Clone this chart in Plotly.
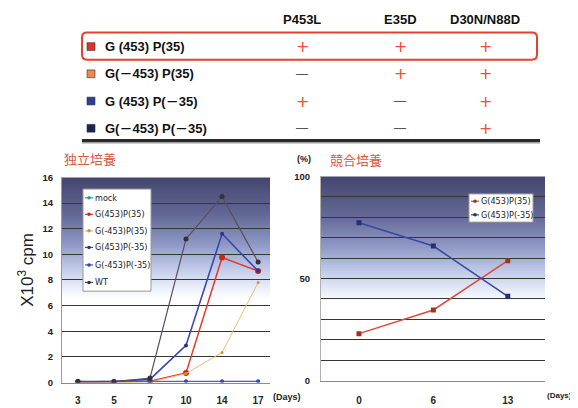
import plotly.graph_objects as go

# The page body has an 8px default margin, so the figure is offset by 8px.
OFF = 8
W, H = 570, 400


def fx(x):
    return (x - OFF) / W


def fy(y):
    return 1 - (y - OFF) / H


# ---------------- data ----------------
table_cols = ["P453L", "E35D", "D30N/N88D"]
table_rows = ["G (453) P(35)", "G(－453) P(35)", "G (453) P(－35)", "G(－453) P(－35)"]
row_colors = ["#e0302a", "#f08a4a", "#2c3f98", "#1d2352"]
table_signs = [["+", "+", "+"], ["-", "+", "+"], ["+", "-", "+"], ["-", "-", "+"]]

left_days = ["3", "5", "7", "10", "14", "17"]
left_names = ["mock", "G(453)P(35)", "G(-453)P(35)", "G(453)P(-35)", "G(-453)P(-35)", "WT"]
mock = [0.05, 0.05, 0.1, 0.1, 0.1, 0.1]
g453_p35 = [0.0, 0.05, 0.1, 0.75, 9.75, 8.7]
gm453_p35 = [0.0, 0.05, 0.05, 0.7, 2.35, 7.8]
g453_pm35 = [0.05, 0.1, 0.25, 2.9, 11.6, 8.7]
gm453_pm35 = [0.1, 0.1, 0.1, 0.1, 0.1, 0.1]
wt = [0.1, 0.05, 0.35, 11.2, 14.5, 9.4]
left_y_ticks = [0, 2, 4, 6, 8, 10, 12, 14, 16]

right_days = ["0", "6", "13"]
right_names = ["G(453)P(35)", "G(453)P(-35)"]
comp_p35 = [23, 34.6, 58.7]
comp_pm35 = [77.3, 65.9, 41.3]
right_y_ticks = [0, 10, 20, 30, 40, 50, 60, 70, 80, 90, 100]
right_y_labels = ["0", " ", " ", " ", " ", "50", " ", " ", " ", " ", "100"]

# ---------------- styles ----------------
left_series = [mock, g453_p35, gm453_p35, g453_pm35, gm453_pm35, wt]
left_line_colors = ["#2a9d9a", "#e23a2a", "#f4b870", "#3a46b0", "#3c5ccc", "#5a4e5e"]
left_marker_colors = ["#2a9d9a", "#c8281c", "#d89030", "#2a3490", "#2c48b8", "#333333"]
left_widths = [1, 1.5, 1, 1.6, 1, 1.2]
left_msize = [3, 6, 3, 4, 4, 5]

right_series = [comp_p35, comp_pm35]
right_line_colors = ["#e04a3a", "#3a48a0"]
right_marker_colors = ["#a83020", "#283070"]

fig = go.Figure()

for name, vals, lc, mc, lw, ms in zip(left_names, left_series, left_line_colors,
                                       left_marker_colors, left_widths, left_msize):
    fig.add_trace(go.Scatter(x=left_days, y=vals, name=name, mode="lines+markers",
                             line=dict(color=lc, width=lw),
                             marker=dict(color=mc, size=ms),
                             xaxis="x", yaxis="y", showlegend=False))

for name, vals, lc, mc in zip(right_names, right_series, right_line_colors, right_marker_colors):
    fig.add_trace(go.Scatter(x=right_days, y=vals, name=name, mode="lines+markers",
                             line=dict(color=lc, width=1.5),
                             marker=dict(color=mc, size=5, symbol="square"),
                             xaxis="x2", yaxis="y2", showlegend=False))

shapes = []
annotations = []

# gradient backgrounds
stops = [(0, (68, 70, 110)), (0.3, (98, 103, 148)), (0.55, (142, 152, 196)),
         (0.75, (192, 202, 232)), (0.9, (230, 236, 248)), (1, (255, 255, 255))]


def grad_color(t):
    for (t0, c0), (t1, c1) in zip(stops[:-1], stops[1:]):
        if t <= t1:
            f = (t - t0) / (t1 - t0)
            return "rgb(%d,%d,%d)" % tuple(round(a + (b - a) * f) for a, b in zip(c0, c1))
    return "rgb(255,255,255)"


def add_gradient(xref, yref, g_end, n=60):
    span = 1 - g_end
    for i in range(n):
        y1 = 1 - span * i / n
        y0 = 1 - span * (i + 1) / n - 0.004
        shapes.append(dict(type="rect", xref=xref, yref=yref, x0=0, x1=1,
                           y0=max(y0, g_end), y1=y1, fillcolor=grad_color((i + 0.5) / n),
                           line=dict(width=0), layer="below"))


add_gradient("x domain", "y domain", 0.41)
add_gradient("x2 domain", "y2 domain", 0.38)

# ---------------- table ----------------
col_x = [302, 400, 485]
row_y = [41.5, 69.5, 97.5, 125.5]
for cx, ct in zip(col_x, table_cols):
    annotations.append(dict(x=fx(cx), y=fy(14), xref="paper", yref="paper", text="<b>%s</b>" % ct,
                            showarrow=False, xanchor="center", yanchor="middle",
                            font=dict(family="Liberation Sans", size=13, color="#111")))
for ry, label, col, signs in zip(row_y, table_rows, row_colors, table_signs):
    shapes.append(dict(type="rect", xref="paper", yref="paper", x0=fx(87), x1=fx(95),
                       y0=fy(ry + 4), y1=fy(ry - 4), fillcolor=col,
                       line=dict(color="#333", width=0.6)))
    annotations.append(dict(x=fx(103), y=fy(ry), xref="paper", yref="paper",
                            text="<b>%s</b>" % label, showarrow=False, xanchor="left",
                            yanchor="middle",
                            font=dict(family="Liberation Sans, Noto Sans CJK JP", size=13, color="#111")))
    for cx, s in zip(col_x, signs):
        if s == "+":
            annotations.append(dict(x=fx(cx), y=fy(ry), xref="paper", yref="paper", text="+",
                                    showarrow=False, xanchor="center", yanchor="middle",
                                    font=dict(family="DejaVu Sans", size=16, color="#ec5038")))
        else:
            annotations.append(dict(x=fx(cx), y=fy(ry), xref="paper", yref="paper", text="—",
                                    showarrow=False, xanchor="center", yanchor="middle",
                                    font=dict(family="Liberation Sans", size=12, color="#555")))

# red rounded highlight
x0, x1, y0, y1, r = 82, 537, 27, 55, 5
path = (f"M {fx(x0 + r)},{fy(y0)} L {fx(x1 - r)},{fy(y0)} Q {fx(x1)},{fy(y0)} {fx(x1)},{fy(y0 + r)} "
        f"L {fx(x1)},{fy(y1 - r)} Q {fx(x1)},{fy(y1)} {fx(x1 - r)},{fy(y1)} "
        f"L {fx(x0 + r)},{fy(y1)} Q {fx(x0)},{fy(y1)} {fx(x0)},{fy(y1 - r)} "
        f"L {fx(x0)},{fy(y0 + r)} Q {fx(x0)},{fy(y0)} {fx(x0 + r)},{fy(y0)} Z")
shapes.append(dict(type="path", xref="paper", yref="paper", path=path,
                   line=dict(color="#e8402e", width=2)))
# separator line
shapes.append(dict(type="line", xref="paper", yref="paper", x0=fx(82), x1=fx(540),
                   y0=fy(140.5), y1=fy(140.5), line=dict(color="#a0a0a0", width=1.5)))
shapes.append(dict(type="line", xref="paper", yref="paper", x0=fx(82), x1=fx(540),
                   y0=fy(138), y1=fy(138), line=dict(color="#2b2b2b", width=3)))

# ---------------- titles & labels ----------------
annotations += [
    dict(x=fx(62), y=fy(157), xref="paper", yref="paper", text="独立培養", showarrow=False,
         xanchor="left", yanchor="middle",
         font=dict(family="Noto Sans CJK JP", size=13, color="#d65a46")),
    dict(x=fx(328), y=fy(158), xref="paper", yref="paper", text="競合培養", showarrow=False,
         xanchor="left", yanchor="middle",
         font=dict(family="Noto Sans CJK JP", size=13, color="#d65a46")),
    dict(x=fx(304), y=fy(157), xref="paper", yref="paper", text="<b>(%)</b>", showarrow=False,
         xanchor="center", yanchor="middle",
         font=dict(family="Liberation Sans", size=9, color="#222")),
    dict(x=fx(26), y=fy(271), xref="paper", yref="paper", text="X10<sup>3</sup> cpm",
         showarrow=False, textangle=-90, xanchor="center", yanchor="middle",
         font=dict(family="Liberation Sans", size=17, color="#222")),
    dict(x=fx(271), y=fy(402), xref="paper", yref="paper", text="<b>(Days)</b>", showarrow=False,
         xanchor="left", yanchor="middle",
         font=dict(family="Liberation Sans", size=9, color="#222")),
    dict(x=fx(574), y=fy(400), xref="paper", yref="paper", text="<b>(Days)</b>", showarrow=False,
         xanchor="right", yanchor="middle",
         font=dict(family="Liberation Sans", size=8, color="#222")),
]

# ---------------- manual legends ----------------
leg_font = dict(family="Liberation Sans Narrow, DejaVu Sans Condensed, Liberation Sans", size=9, color="#222")


def add_legend(box, names, ys, lcolors, mcolors, mx):
    bx0, by0, bx1, by1 = box
    shapes.append(dict(type="rect", xref="paper", yref="paper", x0=fx(bx0), x1=fx(bx1),
                       y0=fy(by1), y1=fy(by0), fillcolor="white",
                       line=dict(color="#9a9a9a", width=1)))
    for n, yy, lc, mc in zip(names, ys, lcolors, mcolors):
        shapes.append(dict(type="line", xref="paper", yref="paper", x0=fx(mx - 4), x1=fx(mx + 4),
                           y0=fy(yy), y1=fy(yy), line=dict(color=lc, width=1.2)))
        shapes.append(dict(type="circle", xref="paper", yref="paper", x0=fx(mx - 1.8), x1=fx(mx + 1.8),
                           y0=fy(yy + 1.8), y1=fy(yy - 1.8), fillcolor=mc, line=dict(width=0)))
        annotations.append(dict(x=fx(mx + 4), y=fy(yy), xref="paper", yref="paper", text=n,
                                showarrow=False, xanchor="left", yanchor="middle", font=leg_font))


add_legend((83, 188, 151, 293), left_names, [197, 214, 231, 248, 266, 284],
           left_line_colors, left_marker_colors, 89)
add_legend((469, 193, 533, 222), right_names, [200.5, 214.5],
           right_line_colors, right_marker_colors, 475)

tick_font = dict(family="Liberation Sans", size=9.5, color="#1e221e", weight="bold")
xtick_font = dict(family="Liberation Sans", size=10, color="#1e2a1e", weight="bold")

fig.update_layout(
    width=W, height=H, margin=dict(l=0, r=0, t=0, b=0),
    paper_bgcolor="white", plot_bgcolor="white", showlegend=False,
    xaxis=dict(domain=[fx(62), fx(270)], type="category", range=[-0.44, 5.33],
               showgrid=False, showline=True, linecolor="#8a8a8a", linewidth=1,
               ticks="", tickfont=xtick_font, ticklabelstandoff=8, anchor="y", zeroline=False),
    yaxis=dict(domain=[fy(387), fy(176)], range=[0, 16], tickvals=left_y_ticks,
               showgrid=True, gridcolor="#343834", gridwidth=1, zeroline=False,
               showline=True, linecolor="#9a9a9a", linewidth=1, ticks="",
               tickfont=tick_font, ticklabelstandoff=6, anchor="x"),
    xaxis2=dict(domain=[fx(321), fx(545)], type="category", range=[-0.51, 2.5],
                showgrid=False, showline=True, linecolor="#8a8a8a", linewidth=1,
                ticks="", tickfont=xtick_font, ticklabelstandoff=10, anchor="y2", zeroline=False),
    yaxis2=dict(domain=[fy(385), fy(175)], range=[0, 100], tickvals=right_y_ticks,
                ticktext=right_y_labels, showgrid=True, gridcolor="#343834", gridwidth=1.2,
                zeroline=False, showline=True, linecolor="#b0b0b0", linewidth=1, ticks="",
                tickfont=tick_font, ticklabelstandoff=8, anchor="x2"),
    shapes=shapes, annotations=annotations,
)

fig.write_html("out.html")
